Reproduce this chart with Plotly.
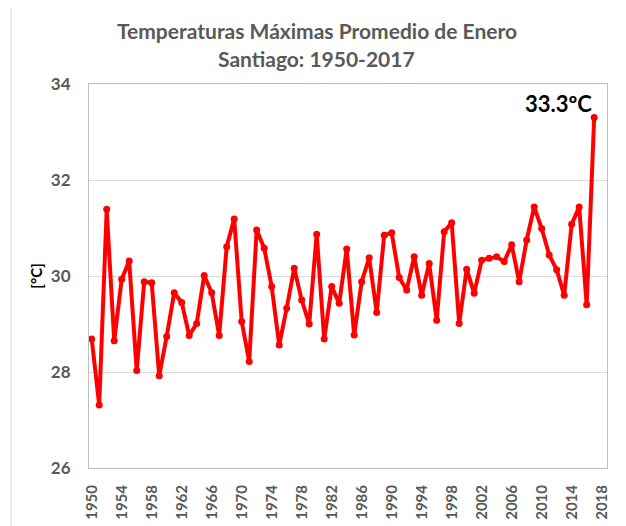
import plotly.graph_objects as go

years = list(range(1950, 2018))
temps = [
    28.69, 27.31, 31.39, 28.65, 29.93, 30.31, 28.03, 29.88, 29.86, 27.92,
    28.74, 29.65, 29.45, 28.76, 29.01, 30.01, 29.65, 28.76, 30.61, 31.19,
    29.05, 28.22, 30.96, 30.58, 29.78, 28.56, 29.33, 30.16, 29.50, 29.00,
    30.87, 28.69, 29.78, 29.43, 30.56, 28.77, 29.88, 30.38, 29.24, 30.85,
    30.90, 29.97, 29.71, 30.40, 29.60, 30.26, 29.08, 30.92, 31.11, 29.01,
    30.14, 29.64, 30.33, 30.37, 30.40, 30.30, 30.65, 29.88, 30.75, 31.44,
    30.99, 30.44, 30.13, 29.60, 31.08, 31.44, 29.40, 33.30,
]
x_ticks = list(range(1950, 2019, 4))
y_ticks = [26, 28, 30, 32, 34]
title_lines = ["Temperaturas Máximas Promedio de Enero", "Santiago: 1950-2017"]
peak_label = "33.3ºC"

GRAY = "#595959"
FONT = "Lato"

fig = go.Figure()
fig.add_trace(go.Scatter(
    x=years, y=temps, mode="lines+markers",
    line=dict(color="#ff0000", width=4),
    marker=dict(color="#ff0000", size=7),
    showlegend=False,
))

# page body has an 8px default margin, so the figure is 8px smaller and shifted
fig.update_layout(
    width=618, height=518,
    margin=dict(l=81, r=19, t=76, b=58, autoexpand=False),
    paper_bgcolor="white", plot_bgcolor="white",
    font=dict(family=FONT, color=GRAY),
    xaxis=dict(
        range=[1949.64, 2018.71], tickmode="array", tickvals=x_ticks,
        ticktext=[str(v) for v in x_ticks], tickangle=-90,
        tickfont=dict(family=FONT, size=15, color=GRAY, weight="bold"),
        showgrid=False, zeroline=False, automargin=False,
        showline=True, linecolor="#bfbfbf", linewidth=1, mirror=True,
        ticks="", ticklabelstandoff=10,
    ),
    yaxis=dict(
        range=[26, 34], tickmode="array", tickvals=y_ticks,
        tickfont=dict(family=FONT, size=17, color=GRAY, weight="bold"),
        showgrid=True, gridcolor="#d9d9d9", gridwidth=1, zeroline=False, automargin=False,
        showline=True, linecolor="#bfbfbf", linewidth=1, mirror=True,
        ticks="", ticklabelstandoff=14,
        title=dict(text="[°C]", font=dict(family=FONT, size=15, color="black", weight="bold"), standoff=4),
    ),
)

fig.add_annotation(
    x=0.44, y=1.1406, xref="paper", yref="paper", text=title_lines[0], showarrow=False,
    font=dict(family=FONT, size=21, color=GRAY, weight="bold"), xanchor="center", yanchor="middle",
)
fig.add_annotation(
    x=0.44, y=1.0677, xref="paper", yref="paper", text=title_lines[1], showarrow=False,
    font=dict(family=FONT, size=21, color=GRAY, weight="bold"), xanchor="center", yanchor="middle",
)
fig.add_annotation(
    x=years[-1], y=temps[-1], xref="x", yref="y", text=peak_label, showarrow=False,
    font=dict(family=FONT, size=22, color="black", weight="bold"),
    xanchor="right", yanchor="bottom", xshift=0, yshift=-1,
)
fig.add_shape(
    type="rect", xref="paper", yref="paper",
    x0=-0.1506, x1=1.0251, y0=-0.17, y1=1.2083,
    line=dict(color="#d9d9d9", width=1), fillcolor="rgba(0,0,0,0)", layer="below",
)

fig.write_html("out.html")
